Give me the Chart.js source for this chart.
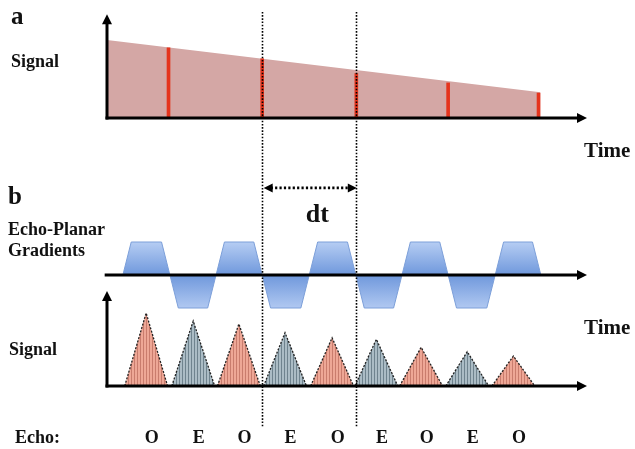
<!DOCTYPE html>
<html><head><meta charset="utf-8">
<script src="https://cdn.jsdelivr.net/npm/chart.js@4.4.0/dist/chart.umd.min.js"></script>
<style>html,body{margin:0;padding:0;background:#fff}#wrap{width:635px;height:449px;position:relative}</style>
</head><body><div id="wrap"><canvas id="c" width="635" height="449"></canvas></div>
<script>
// ---- Panel a: decaying signal envelope (time in echo-spacing units, amplitude relative)
const decayTimes = [0, 9.3];
const decayValues = [1.0, 0.33];
// ---- Panel a: sampled signal (red lines)
const sampleTimes = [1.32, 3.33, 5.35, 7.32, 9.26];
const sampleValues = [0.90, 0.76, 0.57, 0.45, 0.32];
// ---- Panel b: echo-planar gradient lobes
const lobeStarts = [0.34, 1.35, 2.34, 3.33, 4.34, 5.34, 6.33, 7.32, 8.33];
const lobeEnds   = [1.35, 2.34, 3.33, 4.34, 5.34, 6.33, 7.32, 8.33, 9.31];
const lobePolarity = [1, -1, 1, -1, 1, -1, 1, -1, 1];
const rampTime = 0.18;
// ---- Panel b: echoes
const echoLabels = ['O', 'E', 'O', 'E', 'O', 'E', 'O', 'E', 'O'];
const echoCenters = [0.84, 1.85, 2.83, 3.82, 4.83, 5.78, 6.74, 7.73, 8.72];
const echoPeaks = [1.0, 0.89, 0.85, 0.73, 0.66, 0.64, 0.53, 0.47, 0.41];
const echoHalfWidth = 0.46;
// ---- dotted markers and dt interval
const markerTimes = [3.33, 5.35];

const ctx0 = document.getElementById('c').getContext('2d');
function stripes(light, dark) {
  const c = document.createElement('canvas'); c.width = 3; c.height = 4;
  const g = c.getContext('2d');
  g.fillStyle = light; g.fillRect(0, 0, 3, 4);
  g.fillStyle = dark; g.fillRect(2, 0, 1, 4);
  return ctx0.createPattern(c, 'repeat');
}
const patO = stripes('#eea796', '#c97c6d');
const patE = stripes('#abbcc5', '#6f838e');

function yRange(basePx, unitPx) { return { min: (basePx - 449) / unitPx, max: basePx / unitPx }; }

const gradPoints = [];
lobeStarts.forEach((s, i) => {
  const e = lobeEnds[i], p = lobePolarity[i];
  gradPoints.push({x: s, y: 0}, {x: s + rampTime, y: p}, {x: e - rampTime, y: p}, {x: e, y: 0});
});

const datasets = [
  { type: 'bar', yAxisID: 'ya', order: 0, data: sampleTimes.map((t, i) => ({x: t, y: sampleValues[i]})),
    backgroundColor: '#e5341d', barThickness: 3, borderWidth: 0 },
  { type: 'line', yAxisID: 'ya', order: 1, data: decayTimes.map((t, i) => ({x: t, y: decayValues[i]})),
    fill: 'origin', backgroundColor: '#d4a7a5', borderWidth: 0, pointRadius: 0, tension: 0 },
  { type: 'line', yAxisID: 'yg', order: 1, data: gradPoints, fill: 'origin', pointRadius: 0, tension: 0,
    borderColor: '#7c9fd9', borderWidth: 1,
    backgroundColor(c) {
      const ch = c.chart; if (!ch.chartArea) return '#8fb0e8';
      const s = ch.scales.yg;
      const g = ch.ctx.createLinearGradient(0, s.getPixelForValue(1), 0, s.getPixelForValue(-1));
      g.addColorStop(0, '#b6cdf3'); g.addColorStop(0.5, '#6f98dc'); g.addColorStop(1, '#b0c8f1');
      return g;
    } }
];
echoCenters.forEach((c, i) => {
  datasets.push({ type: 'line', yAxisID: 'ys', order: 1,
    data: [{x: c - echoHalfWidth, y: 0}, {x: c, y: echoPeaks[i]}, {x: c + echoHalfWidth, y: 0}],
    fill: 'origin', backgroundColor: echoLabels[i] === 'O' ? patO : patE,
    borderColor: '#222', borderWidth: 1.3, borderDash: [2, 1.5], pointRadius: 0, tension: 0 });
});

const SERIF = '"Liberation Serif", serif';
const overlay = {
  id: 'overlay',
  afterDatasetsDraw(chart) {
    const {ctx, scales: {x, ya, yg, ys}} = chart;
    ctx.save();
    ctx.strokeStyle = '#000'; ctx.fillStyle = '#000';
    const xEnd = x.getPixelForValue(10.3);
    function hArrow(y, xs, xe) {
      ctx.lineWidth = 3; ctx.setLineDash([]);
      ctx.beginPath(); ctx.moveTo(xs, y); ctx.lineTo(xe - 8, y); ctx.stroke();
      ctx.beginPath(); ctx.moveTo(xe, y); ctx.lineTo(xe - 10, y - 5); ctx.lineTo(xe - 10, y + 5); ctx.closePath(); ctx.fill();
    }
    function vArrow(xp, yb, yt) {
      ctx.lineWidth = 3; ctx.setLineDash([]);
      ctx.beginPath(); ctx.moveTo(xp, yb + 1.5); ctx.lineTo(xp, yt + 8); ctx.stroke();
      ctx.beginPath(); ctx.moveTo(xp, yt); ctx.lineTo(xp - 5, yt + 10); ctx.lineTo(xp + 5, yt + 10); ctx.closePath(); ctx.fill();
    }
    const x0 = x.getPixelForValue(0);
    // panel a axes
    vArrow(x0, ya.getPixelForValue(0), ya.getPixelForValue(1.33));
    hArrow(ya.getPixelForValue(0), x0 - 1.5, xEnd);
    // gradient axis
    hArrow(yg.getPixelForValue(0), x.getPixelForValue(-0.05), xEnd);
    // panel b signal axes
    vArrow(x0, ys.getPixelForValue(0), ys.getPixelForValue(1.30));
    hArrow(ys.getPixelForValue(0), x0 - 1.5, xEnd);

    // dotted markers
    ctx.lineWidth = 1.6; ctx.setLineDash([1.6, 1.6]);
    markerTimes.forEach(t => {
      const px = Math.round(x.getPixelForValue(t)) + 0.5;
      ctx.beginPath(); ctx.moveTo(px, ya.getPixelForValue(1.36)); ctx.lineTo(px, ys.getPixelForValue(-0.57)); ctx.stroke();
    });
    // dt arrow
    const dy = yg.getPixelForValue(2.64);
    const xa = x.getPixelForValue(markerTimes[0]) + 1.5, xb = x.getPixelForValue(markerTimes[1]) + 0.5;
    ctx.lineWidth = 2.6; ctx.setLineDash([2.2, 2.2]);
    ctx.beginPath(); ctx.moveTo(xa + 7, dy); ctx.lineTo(xb - 7, dy); ctx.stroke();
    ctx.setLineDash([]);
    ctx.beginPath(); ctx.moveTo(xa, dy); ctx.lineTo(xa + 9, dy - 4.5); ctx.lineTo(xa + 9, dy + 4.5); ctx.closePath(); ctx.fill();
    ctx.beginPath(); ctx.moveTo(xb, dy); ctx.lineTo(xb - 9, dy - 4.5); ctx.lineTo(xb - 9, dy + 4.5); ctx.closePath(); ctx.fill();

    // texts
    ctx.fillStyle = '#111'; ctx.textBaseline = 'alphabetic';
    ctx.textAlign = 'left';
    ctx.font = 'bold 25px ' + SERIF; ctx.fillText('a', 11, 24);
    ctx.fillText('b', 8, 204);
    ctx.font = 'bold 18px ' + SERIF;
    ctx.fillText('Signal', 11, 67);
    ctx.fillText('Echo-Planar', 8, 235);
    ctx.fillText('Gradients', 8, 256);
    ctx.fillText('Signal', 9, 355);
    ctx.fillText('Echo:', 15, 443);
    ctx.font = 'bold 21px ' + SERIF;
    ctx.fillText('Time', 584, 157);
    ctx.fillText('Time', 584, 334);
    ctx.font = 'bold 26px ' + SERIF; ctx.textAlign = 'center';
    ctx.fillText('dt', (xa + xb) / 2 + 7, 222);
    ctx.font = 'bold 18px ' + SERIF;
    echoLabels.forEach((l, i) => ctx.fillText(l, x.getPixelForValue(echoCenters[i] + 0.12), 443));
    ctx.restore();
  }
};

new Chart(document.getElementById('c'), {
  type: 'line',
  data: { datasets },
  options: {
    responsive: false, animation: false, devicePixelRatio: 1, events: [],
    layout: { padding: { left: 107, right: 48, top: 0, bottom: 0 } },
    plugins: { legend: { display: false }, tooltip: { enabled: false }, title: { display: false } },
    scales: {
      x: { type: 'linear', min: 0, max: 10.3, display: false, offset: false },
      ya: { type: 'linear', display: false, ...yRange(118, 78) },
      yg: { type: 'linear', display: false, ...yRange(275, 33) },
      ys: { type: 'linear', display: false, ...yRange(386, 73) }
    }
  },
  plugins: [overlay]
});
</script></body></html>
